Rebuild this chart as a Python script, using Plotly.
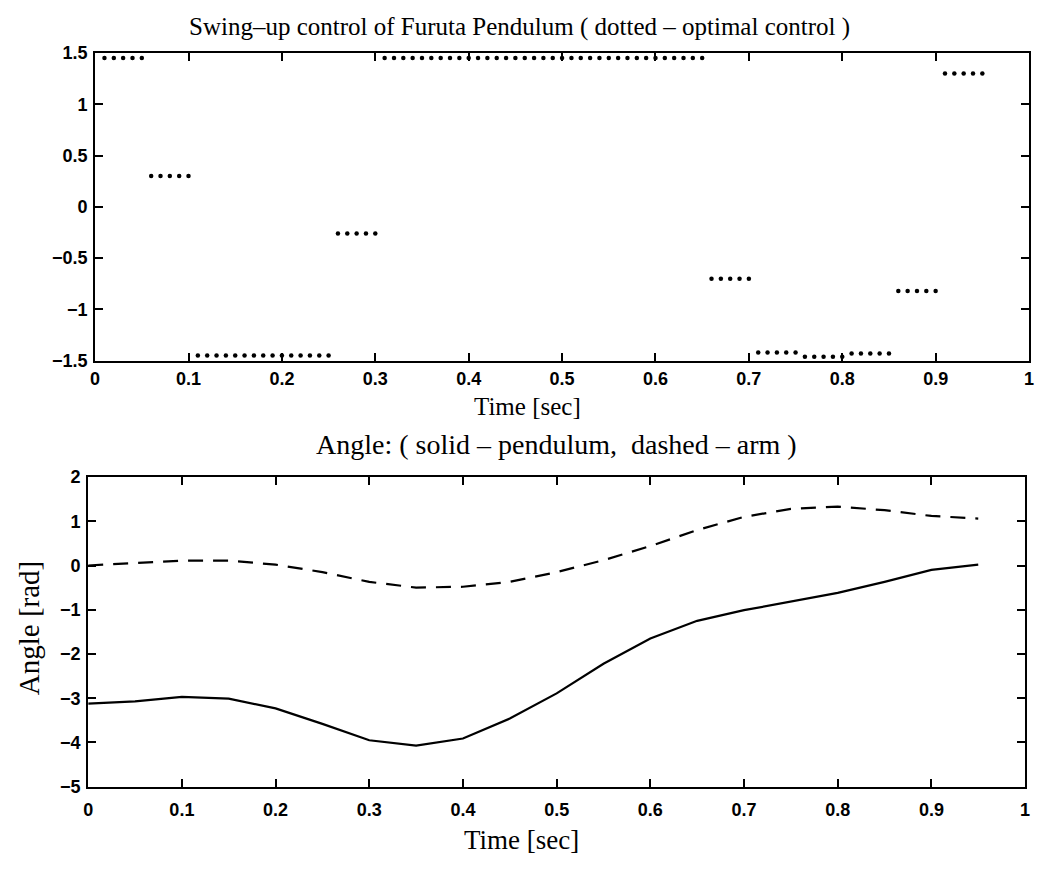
import plotly.graph_objects as go

W, H = 1039, 870

# ---------------- data ----------------
# optimal control (dotted), one dot per sample
ctrl_t = [
    0.01, 0.02, 0.03, 0.04, 0.05,
    0.06, 0.07, 0.08, 0.09, 0.10,
    0.11, 0.12, 0.13, 0.14, 0.15,
    0.16, 0.17, 0.18, 0.19, 0.20,
    0.21, 0.22, 0.23, 0.24, 0.25,
    0.26, 0.27, 0.28, 0.29, 0.30,
    0.31, 0.32, 0.33, 0.34, 0.35,
    0.36, 0.37, 0.38, 0.39, 0.40,
    0.41, 0.42, 0.43, 0.44, 0.45,
    0.46, 0.47, 0.48, 0.49, 0.50,
    0.51, 0.52, 0.53, 0.54, 0.55,
    0.56, 0.57, 0.58, 0.59, 0.60,
    0.61, 0.62, 0.63, 0.64, 0.65,
    0.66, 0.67, 0.68, 0.69, 0.70,
    0.71, 0.72, 0.73, 0.74, 0.75,
    0.76, 0.77, 0.78, 0.79, 0.80,
    0.81, 0.82, 0.83, 0.84, 0.85,
    0.86, 0.87, 0.88, 0.89, 0.90,
    0.91, 0.92, 0.93, 0.94, 0.95,
]
ctrl_u = [
    1.45, 1.45, 1.45, 1.45, 1.45,
    0.30, 0.30, 0.30, 0.30, 0.30,
    -1.45, -1.45, -1.45, -1.45, -1.45,
    -1.45, -1.45, -1.45, -1.45, -1.45,
    -1.45, -1.45, -1.45, -1.45, -1.45,
    -0.26, -0.26, -0.26, -0.26, -0.26,
    1.45, 1.45, 1.45, 1.45, 1.45,
    1.45, 1.45, 1.45, 1.45, 1.45,
    1.45, 1.45, 1.45, 1.45, 1.45,
    1.45, 1.45, 1.45, 1.45, 1.45,
    1.45, 1.45, 1.45, 1.45, 1.45,
    1.45, 1.45, 1.45, 1.45, 1.45,
    1.45, 1.45, 1.45, 1.45, 1.45,
    -0.70, -0.70, -0.70, -0.70, -0.70,
    -1.42, -1.42, -1.42, -1.42, -1.42,
    -1.46, -1.46, -1.46, -1.46, -1.46,
    -1.43, -1.43, -1.43, -1.43, -1.43,
    -0.82, -0.82, -0.82, -0.82, -0.82,
    1.30, 1.30, 1.30, 1.30, 1.30,
]

# angles
angle_t = [0.00, 0.05, 0.10, 0.15, 0.20, 0.25, 0.30, 0.35, 0.40, 0.45,
           0.50, 0.55, 0.60, 0.65, 0.70, 0.75, 0.80, 0.85, 0.90, 0.95]
pendulum = [-3.12, -3.07, -2.97, -3.01, -3.23, -3.58, -3.95, -4.07, -3.91, -3.46,
            -2.89, -2.22, -1.65, -1.25, -1.01, -0.82, -0.62, -0.37, -0.10, 0.02]
arm = [0.00, 0.06, 0.11, 0.11, 0.02, -0.15, -0.37, -0.50, -0.48, -0.37,
       -0.15, 0.12, 0.44, 0.80, 1.10, 1.28, 1.33, 1.25, 1.12, 1.06]

x_ticks = [0, 0.1, 0.2, 0.3, 0.4, 0.5, 0.6, 0.7, 0.8, 0.9, 1]
x_labels = ["0", "0.1", "0.2", "0.3", "0.4", "0.5", "0.6", "0.7", "0.8", "0.9", "1"]
u_ticks = [-1.5, -1, -0.5, 0, 0.5, 1, 1.5]
u_labels = ["\u22121.5", "\u22121", "\u22120.5", "0", "0.5", "1", "1.5"]
a_ticks = [-5, -4, -3, -2, -1, 0, 1, 2]
a_labels = ["\u22125", "\u22124", "\u22123", "\u22122", "\u22121", "0", "1", "2"]

title_top = "Swing\u2013up control of Furuta Pendulum ( dotted \u2013 optimal control )"
title_bot = "Angle: ( solid \u2013 pendulum,  dashed \u2013 arm )"
xlabel = "Time [sec]"
ylabel = "Angle [rad]"

# ---------------- figure ----------------
def px_x(p):
    return p / W

def px_y(p):
    return 1 - p / H

tick_font = dict(family="Liberation Sans, Arial, sans-serif", size=18, color="black",
                 weight="bold")
serif = "Liberation Serif, Times New Roman, serif"

fig = go.Figure()
fig.add_trace(go.Scatter(x=ctrl_t, y=ctrl_u, mode="markers",
                         marker=dict(color="black", size=4.5),
                         xaxis="x", yaxis="y", showlegend=False, hoverinfo="skip"))
fig.add_trace(go.Scatter(x=angle_t, y=pendulum, mode="lines",
                         line=dict(color="black", width=2.2),
                         xaxis="x2", yaxis="y2", showlegend=False))
fig.add_trace(go.Scatter(x=angle_t, y=arm, mode="lines",
                         line=dict(color="black", width=2.2, dash="15px,10px"),
                         xaxis="x2", yaxis="y2", showlegend=False))

axis_common = dict(showgrid=False, zeroline=False, showline=True, linecolor="black",
                   linewidth=2, mirror="ticks", ticks="inside", ticklen=8,
                   tickwidth=1.5, tickcolor="black", tickfont=tick_font)

fig.update_layout(
    width=W, height=H,
    margin=dict(l=0, r=0, t=0, b=0),
    paper_bgcolor="white", plot_bgcolor="white",
    showlegend=False,
    xaxis=dict(domain=[px_x(91), px_x(1034)], range=[0, 1], anchor="y",
               tickvals=x_ticks, ticktext=x_labels, ticklabelstandoff=1, **axis_common),
    yaxis=dict(domain=[px_y(359), px_y(44)], range=[-1.5, 1.5], anchor="x",
               tickvals=u_ticks, ticktext=u_labels, ticklabelstandoff=2, **axis_common),
    xaxis2=dict(domain=[px_x(84), px_x(1030)], range=[0, 1], anchor="y2",
                tickvals=x_ticks, ticktext=x_labels, ticklabelstandoff=6, **axis_common),
    yaxis2=dict(domain=[px_y(795), px_y(478)], range=[-5, 2], anchor="x2",
                tickvals=a_ticks, ticktext=a_labels, ticklabelstandoff=2, **axis_common),
)

def note(text, xp, yp, size, angle=0):
    fig.add_annotation(text=text, x=px_x(xp), y=px_y(yp), xref="paper", yref="paper",
                       showarrow=False, xanchor="center", yanchor="middle",
                       textangle=angle,
                       font=dict(family=serif, size=size, color="black"))

note(title_top, 519, 17, 25)
note(xlabel, 528, 406, 25)
note(title_bot, 557, 445, 28)
note(xlabel, 522, 850, 27)
note(ylabel, 25, 633, 29, angle=-90)

fig.write_html("out.html")
